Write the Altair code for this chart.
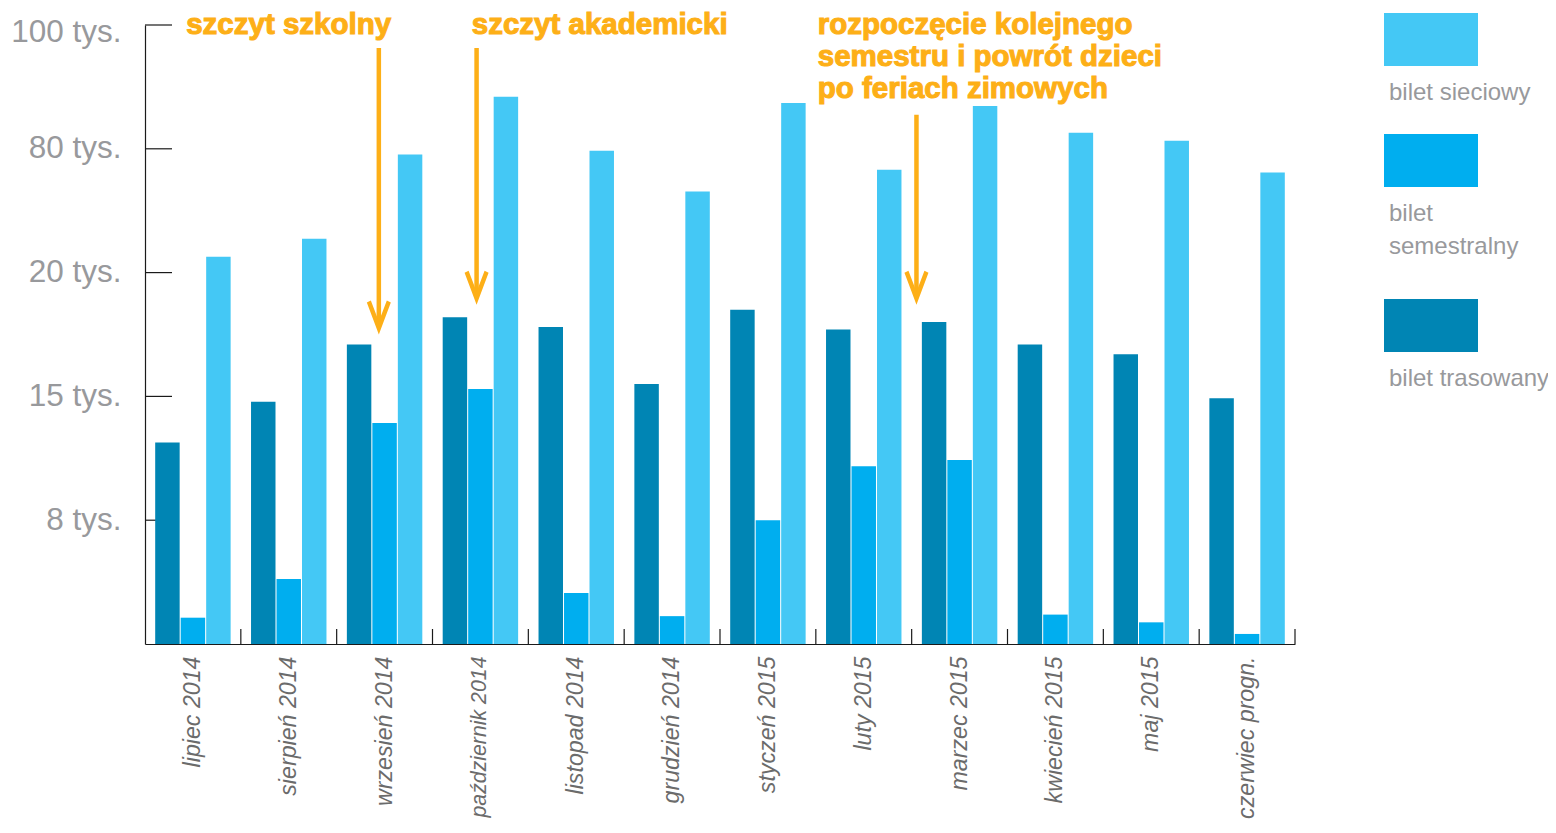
import altair as alt
import pandas as pd

# ---------------- data ----------------
months = ["lipiec 2014", "sierpień 2014", "wrzesień 2014", "październik 2014",
          "listopad 2014", "grudzień 2014", "styczeń 2015", "luty 2015",
          "marzec 2015", "kwiecień 2015", "maj 2015", "czerwiec progn."]
bilet_trasowany = [12.4, 14.7, 17.1, 18.2, 17.8, 15.5, 18.5, 17.7, 18.0, 17.1, 16.7, 14.9]
bilet_semestralny = [1.7, 4.2, 13.5, 15.3, 3.3, 1.8, 8.0, 11.05, 11.4, 1.9, 1.4, 0.65]
bilet_sieciowy = [27.7, 36.4, 77.2, 88.4, 79.0, 59.3, 87.4, 69.9, 86.9, 82.6, 81.3, 68.5]

series_names = ["bilet trasowany", "bilet semestralny", "bilet sieciowy"]
series_colors = ["#0085B4", "#00AEEF", "#44C8F5"]

y_breaks = [0, 8, 15, 20, 80, 100]          # broken (piecewise) value axis
y_tick_values = [8, 15, 20, 80, 100]

legend_order = ["bilet sieciowy", "bilet semestralny", "bilet trasowany"]
legend_labels = ["bilet sieciowy", "bilet\nsemestralny", "bilet trasowany"]
legend_slot = [0, 1, 2]

ann_texts = ["szczyt szkolny", "szczyt akademicki",
             "rozpoczęcie kolejnego\nsemestru i powrót dzieci\npo feriach zimowych"]
ann_pos = [0.43, 3.41, 7.02]          # position in month units along the x axis
ann_level = [100.0, 100.0, 100.0]      # level (thousands) of the first text line
arrow_pos = [2.44, 3.46, 8.05]
arrow_from = [96.3, 96.3, 85.5]
arrow_to = [17.5, 18.7, 18.7]

# ---------------- style ----------------
W, H = 1150, 619
ORANGE = "#FDAF17"
AXIS_COL = "#1a1a1a"
FONT = "Liberation Sans"
y_range = [H - H * i / 5 for i in range(6)]
HEAD = "M0,0L-12,-32L-8,-34L0,-13L8,-34L12,-32Z"
RECT = "M0,0H94V53H0Z"

df = pd.DataFrame(
    [{"miesiac": m, "bilet": s, "tys": v}
     for s, vals in zip(series_names, [bilet_trasowany, bilet_semestralny, bilet_sieciowy])
     for m, v in zip(months, vals)]
)

yscale = alt.Scale(domain=y_breaks, range=y_range, nice=False)
month_scale = alt.Scale(domain=months, paddingInner=0, paddingOuter=0)
color_scale = alt.Scale(domain=series_names, range=series_colors)
pos_scale = alt.Scale(domain=[0, 12], nice=False, zero=False)
leg_scale = alt.Scale(domain=[0, 1, 2], range=[-12, 109, 274], nice=False, zero=False)

ytick_rules = alt.Chart(pd.DataFrame({"v": y_tick_values})).mark_rule(
    color=AXIS_COL, strokeWidth=1.2
).encode(
    y=alt.Y("v:Q", scale=yscale, axis=None),
    x=alt.value(0), x2=alt.value(27),
)

xtick_rules = alt.Chart(pd.DataFrame({"miesiac": months})).mark_rule(
    color=AXIS_COL, strokeWidth=1.2
).encode(
    x=alt.X("miesiac:N", scale=month_scale, axis=None, bandPosition=1),
    y=alt.value(H), y2=alt.value(H - 15),
)

bars = alt.Chart(df).mark_bar().encode(
    x=alt.X("miesiac:N", scale=month_scale, sort=months,
            axis=alt.Axis(title=None, labelAngle=270, labelFontStyle="italic",
                          labelFont=FONT, labelColor="#6b6b6b",
                          labelFontSize={"condition": {"test": "length(datum.label) > 15",
                                                       "value": 21.3},
                                         "value": 23.2},
                          labelPadding=12, ticks=False, tickSize=0, labelLimit=400,
                          domainColor=AXIS_COL, domainWidth=1.2)),
    xOffset=alt.XOffset("bilet:N", scale=alt.Scale(domain=series_names,
                                                   paddingInner=0.04, paddingOuter=0.4)),
    y=alt.Y("tys:Q", scale=yscale,
            axis=alt.Axis(title=None, values=y_tick_values, labelExpr="datum.value + ' tys.'",
                          labelFont=FONT, labelFontSize=31.5, labelColor="#98999c",
                          labelPadding=24, ticks=False, tickSize=0, grid=False,
                          labelOffset={"condition": {"test": "datum.value == 100", "value": 7},
                                       "value": 0},
                          domainColor=AXIS_COL, domainWidth=1.2)),
    color=alt.Color("bilet:N", scale=color_scale, legend=None),
)

arrows_df = pd.DataFrame({"pos": arrow_pos, "od": arrow_from, "do": arrow_to})
shafts = alt.Chart(arrows_df).mark_rule(color=ORANGE, strokeWidth=4.5, y2Offset=-10).encode(
    x=alt.X("pos:Q", scale=pos_scale, axis=None),
    y=alt.Y("od:Q", scale=yscale, axis=None),
    y2="do:Q",
)
heads = alt.Chart(arrows_df).mark_point(
    shape=HEAD, size=4, filled=True, opacity=1, color=ORANGE, strokeWidth=0
).encode(
    x=alt.X("pos:Q", scale=pos_scale, axis=None),
    y=alt.Y("do:Q", scale=yscale, axis=None),
)

ann = alt.Chart(pd.DataFrame({"pos": ann_pos, "level": ann_level, "txt": ann_texts})).mark_text(
    align="left", baseline="middle", font=FONT, fontSize=29.5, fontWeight="bold",
    color=ORANGE, stroke=ORANGE, strokeWidth=1.1, lineBreak="\n", lineHeight=32
).encode(
    x=alt.X("pos:Q", scale=pos_scale, axis=None),
    y=alt.Y("level:Q", scale=yscale, axis=None),
    text="txt:N",
)

leg_df = pd.DataFrame({"bilet": legend_order, "label": legend_labels, "slot": legend_slot})
leg_rects = alt.Chart(leg_df).mark_point(
    shape=RECT, size=4, filled=True, opacity=1, strokeWidth=0
).encode(
    x=alt.value(W + 89),
    y=alt.Y("slot:Q", scale=leg_scale, axis=None),
    color=alt.Color("bilet:N", scale=color_scale, legend=None),
)
leg_text = alt.Chart(leg_df).mark_text(
    align="left", baseline="alphabetic", dy=87, font=FONT, fontSize=24,
    color="#98999c", lineBreak="\n", lineHeight=33
).encode(
    x=alt.value(W + 94),
    y=alt.Y("slot:Q", scale=leg_scale, axis=None),
    text="label:N",
)

chart = alt.layer(
    ytick_rules, xtick_rules, bars, shafts, heads, ann, leg_rects, leg_text
).resolve_scale(
    x="independent", y="independent"
).properties(
    width=W, height=H,
    autosize=alt.AutoSizeParams(type="none"),
    padding={"left": 137, "top": 17, "right": 253, "bottom": 176},
    background="white",
).configure_view(strokeWidth=0)

chart.save("out.html", embed_options={"renderer": "svg", "actions": False})
